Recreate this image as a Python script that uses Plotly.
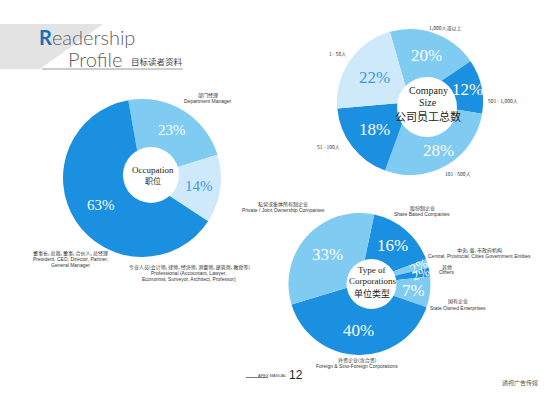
import numpy as np
import plotly.graph_objects as go

# ---------------- data ----------------
occ_labels = ["Department Manager", "Professional", "President / CEO / Director"]
occ_values = [23, 14, 63]

size_labels = ["1,000人或以上", "501 - 1,000人", "101 - 500人", "51 - 100人", "1 - 50人"]
size_values = [20, 12, 28, 18, 22]

corp_labels = ["股份制企业", "中央, 省, 市政府机构", "其他", "国有企业", "外资企业(含合资)", "私营或集体所有制企业"]
corp_values = [16, 2, 2, 7, 40, 33]

# ---------------- style ----------------
DARK = "#1b8fe0"
MED = "#80cbf2"
PALE = "#cde9fa"
TXT_BLUE = "#3a9ce0"

occ_colors = [MED, PALE, DARK]
occ_txt = ["white", TXT_BLUE, "white"]
occ_fs = [15, 15, 15]
size_colors = [MED, DARK, MED, DARK, PALE]
size_txt = ["white", "white", "white", "white", TXT_BLUE]
size_fs = [17, 17, 17, 17, 17]
corp_colors = [DARK, MED, DARK, MED, DARK, MED]
corp_txt = ["white"] * 6
corp_fs = [17, 13, 13, 17, 17, 17]

W, H = 560, 394
serif = "Liberation Serif"
cjk = "Noto Sans CJK SC"

# geometry: (outer centre x, y, radius), (hole centre x, y, radius), rotation
OCC = dict(c=(142, 178, 79), h=(151, 175, 28), rot=-10)
SIZE = dict(c=(410, 102, 73), h=(427, 107, 30), rot=-16)
CORP = dict(c=(359.5, 284, 71), h=(371.5, 284, 25), rot=12)


def dom(cx, cy, r):
    return dict(x=[(cx - r) / W, (cx + r) / W], y=[(H - cy - r) / H, (H - cy + r) / H])


fig = go.Figure()
ann = []
shapes = []


def A(x, y, text, size=5.5, color="#333", family="Liberation Sans", xanchor="center",
      angle=0, weight=None):
    f = dict(size=size, color=color, family=family)
    if weight:
        f["weight"] = weight
    ann.append(dict(x=x / W, y=(H - y) / H, xref="paper", yref="paper", text=text,
                    showarrow=False, xanchor=xanchor, yanchor="middle", textangle=angle,
                    font=f))


def donut(labels, values, colors, txtcol, fs, g):
    cx, cy, R = g["c"]
    hx, hy, hr = g["h"]
    fig.add_trace(go.Pie(
        labels=labels, values=values, textinfo="none",
        sort=False, direction="clockwise", rotation=g["rot"], hole=0.1,
        marker=dict(colors=colors, line=dict(width=0)),
        domain=dom(cx, cy, R), showlegend=False, hoverinfo="skip"))
    shapes.append(dict(type="circle", xref="paper", yref="paper",
                       x0=(hx - hr) / W, x1=(hx + hr) / W,
                       y0=(H - hy - hr) / H, y1=(H - hy + hr) / H,
                       fillcolor="white", line=dict(width=0), layer="above"))
    v = np.asarray(values, float)
    ends = np.cumsum(v) / v.sum() * 360.0
    mids = g["rot"] + ends - v / v.sum() * 180.0
    d = np.array([hx - cx, hy - cy])
    for m, val, col, s in zip(mids, values, txtcol, fs):
        th = np.radians(m)
        u = np.array([np.sin(th), -np.cos(th)])
        ud = u @ d
        th_dist = ud + np.sqrt(max(ud ** 2 - d @ d + hr ** 2, 0))
        small = val < 5
        t = 0.88 * R if small else (th_dist + R) / 2
        px, py = cx + t * u[0], cy + t * u[1]
        ang = (m - 100) if small else 0
        A(px, py, f"{val}%", size=s, color=col, family=serif, angle=ang)


donut(occ_labels, occ_values, occ_colors, occ_txt, occ_fs, OCC)
donut(size_labels, size_values, size_colors, size_txt, size_fs, SIZE)
donut(corp_labels, corp_values, corp_colors, corp_txt, corp_fs, CORP)

# grey header band
shapes.append(dict(type="path", xref="paper", yref="paper",
                   path=f"M 0 {(H-24)/H} L {103/W} {(H-24)/H} L {40/W} {(H-69)/H} L 0 {(H-69)/H} Z",
                   fillcolor="#e3e3e3", line=dict(width=0), layer="below"))
# title underline
shapes.append(dict(type="line", xref="paper", yref="paper",
                   x0=42 / W, x1=183 / W, y0=(H - 69) / H, y1=(H - 69) / H,
                   line=dict(color="#9a9a9a", width=1)))
# footer underline
shapes.append(dict(type="line", xref="paper", yref="paper",
                   x0=246 / W, x1=268 / W, y0=(H - 377.5) / H, y1=(H - 377.5) / H,
                   line=dict(color="#555", width=0.8)))

# title
A(37, 37, "<span style='color:#1b6fb5;font-weight:700'>R</span>eadership", size=20,
  color="#606060", family="Lato", xanchor="left", weight=300)
A(66, 59, "Profile", size=20, color="#606060", family="Lato", xanchor="left", weight=300)
A(129, 61, "目标读者资料", size=8.5, color="#444", family=cjk, xanchor="left")

# occupation labels
A(208, 95, "部门经理", size=5, family=cjk)
A(208, 101, "Department Manager", size=5)
A(70, 253, "董事长, 总裁, 董事, 合伙人, 总经理", size=5, family=cjk)
A(70, 259, "President, CEO, Director, Partner,", size=5)
A(70, 265, "General Manager", size=5)
A(189, 267, "专业人员(会计师, 律师, 经济师, 测量师, 建筑师, 教授等)", size=5, family=cjk)
A(189, 273, "Professional (Accountant, Lawyer,", size=5)
A(189, 279, "Economist, Surveyor, Architect, Professor)", size=5)
A(153, 170, "Occupation", size=9, color="#222", family=serif)
A(153, 180, "职位", size=8, color="#222", family=cjk)

# company size labels
A(445, 27, "1,000人或以上", size=5, family=cjk)
A(337, 53, "1 - 50人", size=5, family=cjk)
A(503, 100, "501 - 1,000人", size=5, family=cjk)
A(328, 146, "51 - 100人", size=5, family=cjk)
A(458, 173, "101 - 500人", size=5, family=cjk)
A(428, 91, "Company", size=10, color="#222", family=serif)
A(428, 102, "Size", size=10, color="#222", family=serif)
A(428, 116, "公司员工总数", size=11, color="#222", family=cjk)

# corporation labels
A(283, 204, "私营或集体所有制企业", size=5, family=cjk)
A(283, 210, "Private / Joint Ownership Companies", size=5)
A(422, 208, "股份制企业", size=5, family=cjk)
A(422, 214, "Share Based Companies", size=5)
A(479, 250, "中央, 省, 市政府机构", size=5, family=cjk)
A(479, 256, "Central, Provincial, Cities Government Entities", size=5)
A(447, 267, "其他", size=5, family=cjk)
A(447, 272, "Others", size=5)
A(458, 301, "国有企业", size=5, family=cjk)
A(458, 308, "State Owned Enterprises", size=5)
A(357, 360, "外资企业(含合资)", size=5, family=cjk)
A(357, 366, "Foreign & Sino-Foreign Corporations", size=5)
A(372, 270, "Type of", size=9, color="#222", family=serif)
A(372, 281, "Corporations", size=9, color="#222", family=serif)
A(372, 293, "单位类型", size=9, color="#222", family=cjk)

# footer
A(256, 375, "APEX MANUAL", size=4, color="#444", xanchor="left")
A(287, 375, "12", size=12, color="#222", xanchor="left")
A(520, 382, "通视广告传媒", size=6, color="#555", family=cjk)

fig.update_layout(
    width=W, height=H, margin=dict(l=0, r=0, t=0, b=0),
    paper_bgcolor="white", plot_bgcolor="white",
    shapes=shapes, annotations=ann,
)

fig.write_html("out.html", config=dict(displayModeBar=False),
               post_script="document.body.style.margin='0';document.body.style.padding='0';")
